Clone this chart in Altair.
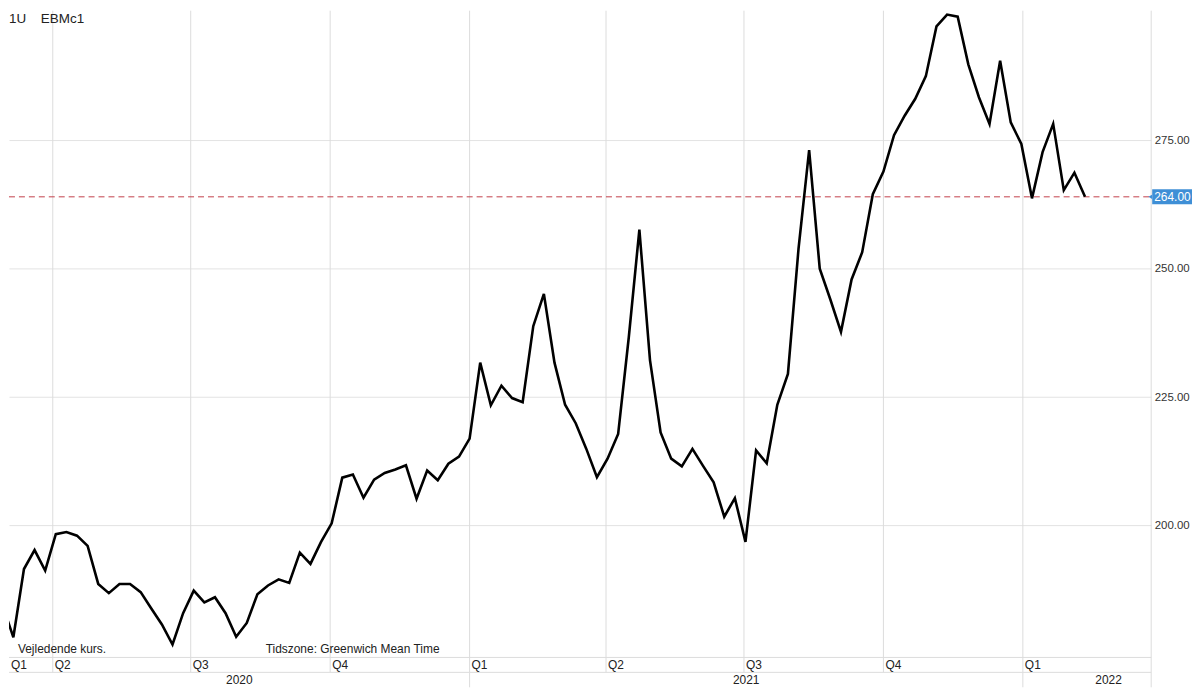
import altair as alt
import pandas as pd

# ---------------- data ----------------
first_date = "2020-02-28"          # weekly observations (Fridays)
prices = [
    184.4, 178.2, 191.5, 195.2, 191.2, 198.3, 198.7, 198.0, 196.0, 188.6,
    186.8, 188.6, 188.6, 187.0, 183.8, 180.7, 176.8, 182.9, 187.3, 185.0,
    186.0, 182.9, 178.3, 181.0, 186.6, 188.3, 189.5, 188.8, 194.7, 192.5,
    196.8, 200.4, 209.3, 209.9, 205.4, 208.9, 210.2, 210.9, 211.7, 205.2,
    210.7, 208.8, 212.0, 213.4, 216.9, 231.7, 223.4, 227.2, 224.8, 224.0,
    238.8, 245.1, 231.7, 223.5, 219.9, 214.9, 209.4, 213.0, 217.8, 236.6,
    257.6, 232.2, 218.1, 213.0, 211.5, 214.9, 211.6, 208.4, 201.7, 205.3,
    196.8, 214.6, 212.1, 223.5, 229.5, 253.9, 273.1, 250.0, 244.0, 237.7,
    247.9, 253.2, 264.5, 268.9, 276.0, 279.8, 283.1, 287.5, 297.2, 299.5,
    299.1, 289.8, 283.4, 278.2, 290.5, 278.5, 274.3, 263.7, 272.7, 278.2,
    265.3, 268.7, 264.0,
]
quarter_starts = ["2020-04-01", "2020-07-01", "2020-10-01", "2021-01-01",
                  "2021-04-01", "2021-07-01", "2021-10-01", "2022-01-01"]
quarter_labels = ["Q2", "Q3", "Q4", "Q1", "Q2", "Q3", "Q4", "Q1"]
first_quarter_label = "Q1"
year_starts = ["2021-01-01", "2022-01-01"]
year_labels = ["2020", "2021", "2022"]
y_ticks = [200, 225, 250, 275]
last_price = 264.0
symbol_labels = ["1U", "EBMc1"]
note_left = "Vejledende kurs."
note_tz = "Tidszone: Greenwich Mean Time"

# ---------------- tables ----------------
dates = pd.date_range(first_date, periods=len(prices), freq="7D")
df = pd.DataFrame({"date": dates.strftime("%Y-%m-%d"), "price": prices})

x_min = pd.Timestamp("2020-03-03T03:00:00")
x_max = pd.Timestamp("2022-03-26T16:00:00")
year_seg_end = pd.Timestamp("2022-04-24")

def dt(ts):
    return alt.DateTime(year=ts.year, month=ts.month, date=ts.day,
                        hours=ts.hour, utc=True)

xscale = alt.Scale(type="utc", domain=[dt(x_min), dt(x_max)])
yscale = alt.Scale(domain=[174.28, 300.25], zero=False, nice=False)
yaxis = alt.Axis(orient="right", values=y_ticks, format=".2f", grid=True,
                 gridColor="#e3e3e3", gridWidth=1, domain=False, ticks=False,
                 labelPadding=3, labelFontSize=11.5, labelColor="#333333",
                 labelFont="Liberation Sans", title=None)

def X(field="date"):
    return alt.X(f"{field}:T", scale=xscale, axis=None)

def Y(field):
    return alt.Y(f"{field}:Q", scale=yscale, axis=yaxis)

W, H = 1148, 650
FONT = "Liberation Sans"

q_df = pd.DataFrame({"date": quarter_starts, "label": quarter_labels})
ql_df = pd.DataFrame({
    "date": [x_min.strftime("%Y-%m-%dT%H:%M:%SZ")] + [q + "T00:00:00Z" for q in quarter_starts],
    "label": [first_quarter_label] + quarter_labels,
})
ys_df = pd.DataFrame({"date": year_starts})
bounds = [x_min] + [pd.Timestamp(y) for y in year_starts] + [year_seg_end]
mids = [bounds[i] + (bounds[i + 1] - bounds[i]) / 2 for i in range(len(year_labels))]
yl_df = pd.DataFrame({"date": [m.strftime("%Y-%m-%dT%H:%M:%SZ") for m in mids],
                      "label": year_labels})
lvl_df = pd.DataFrame({"level": [last_price]})

grid_color = "#dcdcdc"

# quarter grid lines (extend through quarter row)
qgrid = alt.Chart(q_df).mark_rule(color=grid_color, strokeWidth=1).encode(
    x=X(), y=alt.value(0), y2=alt.value(H + 15))
# year separators
ygrid = alt.Chart(ys_df).mark_rule(color=grid_color, strokeWidth=1).encode(
    x=X(), y=alt.value(H + 15), y2=alt.value(H + 30))
# horizontal axis row borders
hline1 = alt.Chart(lvl_df).mark_rule(color=grid_color).encode(
    x=alt.value(0), x2=alt.value(W), y=alt.value(H))
hline2 = alt.Chart(lvl_df).mark_rule(color=grid_color).encode(
    x=alt.value(0), x2=alt.value(W), y=alt.value(H + 15))
# right border
vright = alt.Chart(lvl_df).mark_rule(color=grid_color).encode(
    x=alt.value(W), y=alt.value(0), y2=alt.value(H + 30))

# price line
line = alt.Chart(df).mark_line(color="black", strokeWidth=2.6, clip=True).encode(
    x=X(), y=Y("price"))

# last price dashed line
dash = alt.Chart(lvl_df).mark_rule(color="#c2404a", strokeWidth=1,
                                   strokeDash=[6, 4]).encode(
    x=alt.value(0), x2=alt.value(W), y=Y("level"))
box = alt.Chart(lvl_df).mark_rect(color="#3f8fd6", yOffset=-7.5, y2Offset=7.5).encode(
    x=alt.value(W + 1), x2=alt.value(W + 41), y=Y("level"), y2="level:Q")
tip = alt.Chart(lvl_df).mark_point(shape="triangle-left", size=18, filled=True,
                                   color="#3f8fd6", opacity=1).encode(
    x=alt.value(W - 1), y=Y("level"))
box_text = alt.Chart(lvl_df).mark_text(color="white", fontSize=12, font=FONT,
                                       align="left", baseline="middle", dx=0).encode(
    x=alt.value(W + 3), y=Y("level"), text=alt.Text("level:Q", format=".2f"))

# axis texts
q_text = alt.Chart(ql_df).mark_text(align="left", baseline="middle", dx=2,
                                    fontSize=12, font=FONT, color="#222222").encode(
    x=X(), y=alt.value(H + 8), text="label:N")
y_text = alt.Chart(yl_df).mark_text(align="center", baseline="middle",
                                    fontSize=12, font=FONT, color="#222222").encode(
    x=X(), y=alt.value(H + 23), text="label:N")

# annotations
sym_df = pd.DataFrame({"label": symbol_labels, "pos": [0, 32]})
sym = alt.Chart(sym_df).mark_text(align="left", baseline="top", fontSize=13.5,
                                  font=FONT, color="#222222").encode(
    x=alt.X("pos:Q", scale=None), y=alt.value(1), text="label:N")
note1 = alt.Chart(pd.DataFrame({"t": [note_left]})).mark_text(
    align="left", baseline="middle", fontSize=12, font=FONT, color="#222222").encode(
    x=alt.value(9), y=alt.value(H - 8), text="t:N")
note2 = alt.Chart(pd.DataFrame({"t": [note_tz]})).mark_text(
    align="left", baseline="middle", fontSize=12, font=FONT, color="#222222").encode(
    x=alt.value(258), y=alt.value(H - 8), text="t:N")

chart = alt.layer(
    qgrid, ygrid, hline1, hline2, vright, dash, line, box, tip, box_text,
    q_text, y_text, sym, note1, note2,
).properties(width=W, height=H, padding=0, background="white").configure_view(
    stroke=None)

chart.save("out.html", embed_options={"renderer": "svg", "actions": False})
